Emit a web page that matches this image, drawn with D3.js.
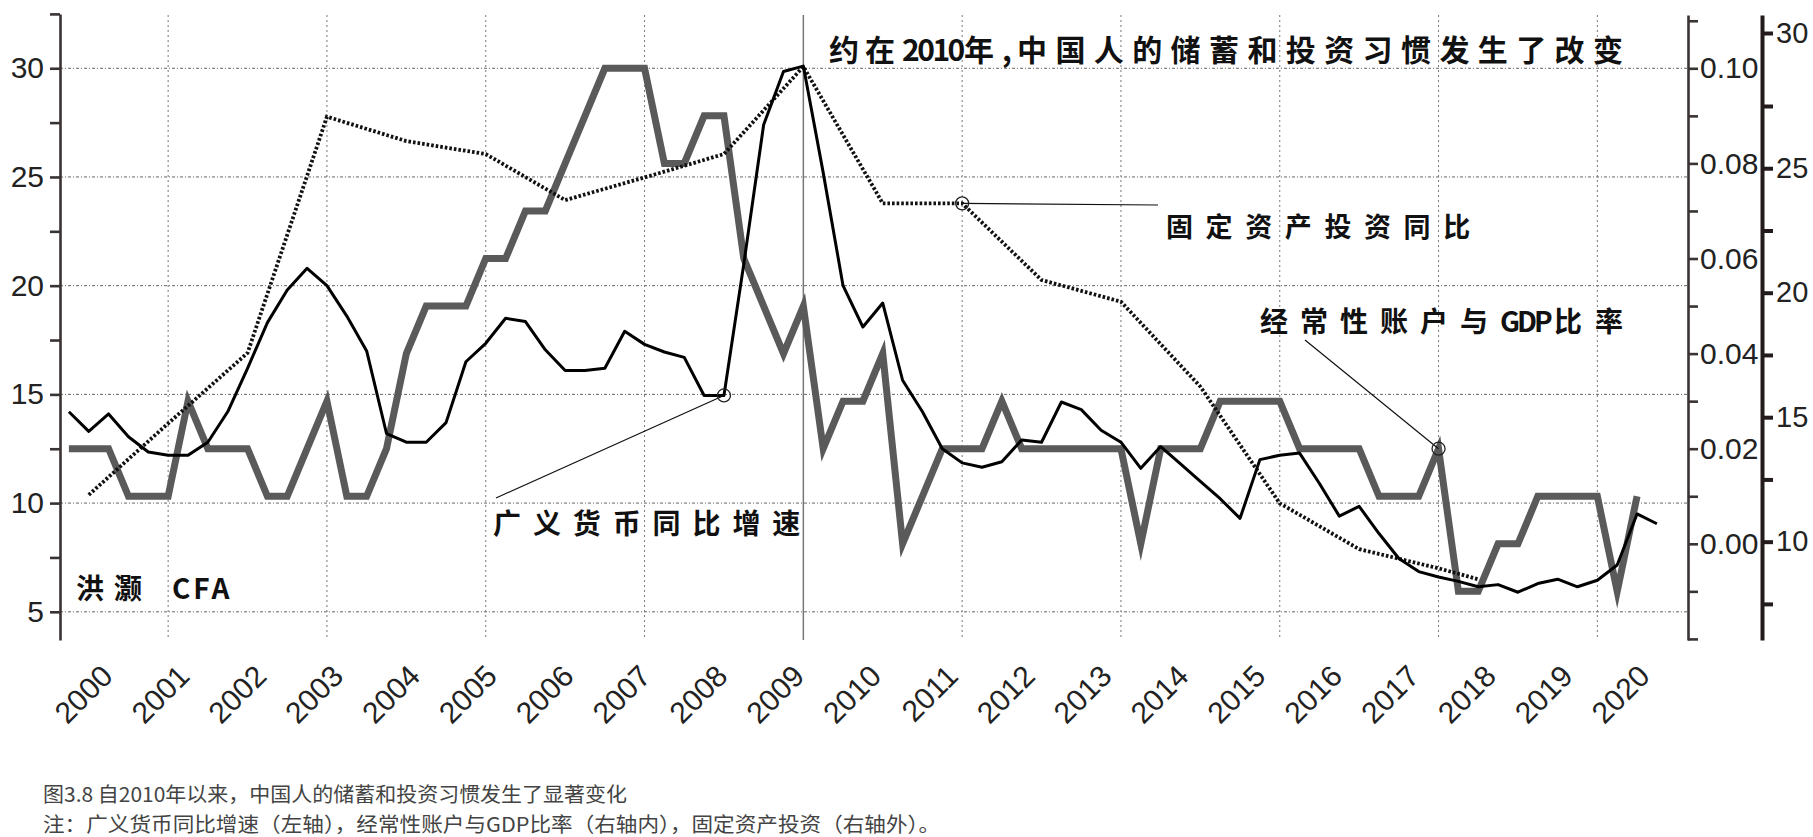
<!DOCTYPE html>
<html>
<head>
<meta charset="utf-8">
<script src="https://cdn.jsdelivr.net/npm/d3@7/dist/d3.min.js"></script>
<style>
  body { margin: 0; background: #fff; }
  svg { display: block; }
</style>
</head>
<body>
<svg id="chart" width="1813" height="837"></svg>
<script>
// ---------------- DATA ----------------
// quarterly categories 2000Q1 .. 2020Q1
const quarters = d3.range(0, 81).map(i => `${2000 + Math.floor(i / 4)}Q${(i % 4) + 1}`);

// 广义货币同比增速 (M2 YoY, %, left axis)
const m2Growth = [
  14.2, 13.3, 14.1, 13.05, 12.35, 12.2, 12.2, 12.8, 14.2, 16.2,
  18.3, 19.8, 20.8, 20.0, 18.6, 17.0, 13.2, 12.8, 12.8, 13.7,
  16.5, 17.35, 18.5, 18.35, 17.05, 16.1, 16.1, 16.2, 17.9, 17.3,
  16.95, 16.7, 14.95, 14.95, 21.0, 27.4, 29.85, 30.1, 25.2, 20.0,
  18.1, 19.2, 15.65, 14.2, 12.5, 11.85, 11.65, 11.9, 12.9, 12.8,
  14.65, 14.3, 13.35, 12.8, 11.6, 12.6, 11.8, 11.0, 10.2, 9.3,
  12.0, 12.2, 12.3, 10.9, 9.4, 9.85, 8.6, 7.45, 6.85, 6.6,
  6.4, 6.15, 6.25, 5.9, 6.3, 6.5, 6.15, 6.45, 7.15, 9.5,
  9.05
];

// 经常性账户与GDP比率 (current account / GDP, right inner axis)
const currentAccountGDP = [
  0.02, 0.02, 0.02, 0.01, 0.01, 0.01, 0.03, 0.02, 0.02, 0.02,
  0.01, 0.01, 0.02, 0.03, 0.01, 0.01, 0.02, 0.04, 0.05, 0.05,
  0.05, 0.06, 0.06, 0.07, 0.07, 0.08, 0.09, 0.10, 0.10, 0.10,
  0.08, 0.08, 0.09, 0.09, 0.06, 0.05, 0.04, 0.05, 0.02, 0.03,
  0.03, 0.04, 0.00, 0.01, 0.02, 0.02, 0.02, 0.03, 0.02, 0.02,
  0.02, 0.02, 0.02, 0.02, 0.00, 0.02, 0.02, 0.02, 0.03, 0.03,
  0.03, 0.03, 0.02, 0.02, 0.02, 0.02, 0.01, 0.01, 0.01, 0.02,
  -0.01, -0.01, 0.00, 0.00, 0.01, 0.01, 0.01, 0.01, -0.01, 0.01
];

// 固定资产投资同比 (fixed asset investment YoY, %, right outer axis), annual
const fixedInvestPeriods = [
  "2000Q2", "2001Q2", "2002Q2", "2003Q2", "2004Q2", "2005Q2", "2006Q2", "2007Q2", "2008Q2",
  "2009Q2", "2010Q2", "2011Q2", "2012Q2", "2013Q2", "2014Q2", "2015Q2", "2016Q2", "2017Q2", "2017Q4"
];
const fixedInvest = [
  11.88, 14.75, 17.58, 27.07, 26.09, 25.57, 23.72, 24.63, 25.57,
  28.85, 23.59, 23.59, 20.51, 19.64, 16.23, 11.54, 9.7, 8.93, 8.49
];

const yearLabels = d3.range(2000, 2021);
const leftTicks = [5, 7.5, 10, 12.5, 15, 17.5, 20, 22.5, 25, 27.5, 30, 32.5];
const innerTicks = [-0.02, -0.01, 0.00, 0.01, 0.02, 0.03, 0.04, 0.05, 0.06, 0.07, 0.08, 0.09, 0.10, 0.11];
const outerTicks = [7.5, 10, 12.5, 15, 17.5, 20, 22.5, 25, 27.5, 30];
const gridQuarters = ["2001Q2", "2003Q2", "2005Q2", "2007Q2", "2011Q2", "2013Q2", "2015Q2", "2017Q2", "2019Q2"];
const markerQuarter = "2009Q2";
const gridValues = [5, 10, 15, 20, 25, 30];

// ---------------- SCALES ----------------
const svg = d3.select("#chart");
const x = d3.scalePoint().domain(quarters).range([68.9, 1656.9]);
const xLab = d3.scaleLinear().domain([2000, 2020]).range([114, 1651]);
const yLeft = d3.scaleLinear().domain([3.703, 32.5]).range([640, 13.9]);
const yIn = d3.scaleLinear().domain([-0.02023, 0.11121]).range([640, 15]);
const yOut = d3.scaleLinear().domain([6.05, 27.5, 30, 30.6]).range([640, 106, 33, 15]);

const axisFont = "'Liberation Sans', Arial, sans-serif";
const cjkFont = "'Noto Sans CJK SC', 'Noto Sans', sans-serif";

// ---------------- GRID ----------------
const grid = svg.append("g");
grid.selectAll("line.h").data(gridValues).join("line")
  .attr("x1", 60).attr("x2", 1688)
  .attr("y1", d => yLeft(d)).attr("y2", d => yLeft(d))
  .attr("stroke", "#666").attr("stroke-width", 1)
  .attr("stroke-dasharray", "3,2,1,2");
grid.selectAll("line.v").data(gridQuarters).join("line")
  .attr("x1", d => x(d)).attr("x2", d => x(d))
  .attr("y1", 15).attr("y2", 640)
  .attr("stroke", "#777").attr("stroke-width", 1)
  .attr("stroke-dasharray", "2,3");
grid.append("line")
  .attr("x1", x(markerQuarter)).attr("x2", x(markerQuarter))
  .attr("y1", 15).attr("y2", 640)
  .attr("stroke", "#777").attr("stroke-width", 1.5);

// ---------------- AXES ----------------
function styleAxis(g, color, width, fontSize) {
  g.select(".domain").attr("stroke", color).attr("stroke-width", width);
  g.selectAll(".tick line").attr("stroke", color).attr("stroke-width", width);
  g.selectAll(".tick text").attr("fill", "#222").style("font-family", axisFont).style("font-size", fontSize + "px");
}

const gLeft = svg.append("g").attr("transform", "translate(60,0)")
  .call(d3.axisLeft(yLeft).tickValues(leftTicks).tickSize(10).tickSizeOuter(0).tickPadding(6)
    .tickFormat(d => (d % 5 === 0 ? d3.format("d")(d) : "")));
styleAxis(gLeft, "#3a3333", 2.6, 30);

const gIn = svg.append("g").attr("transform", "translate(1688,0)")
  .call(d3.axisRight(yIn).tickValues(innerTicks).tickSize(10).tickSizeOuter(0).tickPadding(2)
    .tickFormat(d => {
      const k = Math.round(d * 100);
      return (k >= 0 && k <= 10 && k % 2 === 0) ? d3.format(".2f")(d) : "";
    }));
styleAxis(gIn, "#3a3333", 2.6, 30);

const gOut = svg.append("g").attr("transform", "translate(1762,0)")
  .call(d3.axisRight(yOut).tickValues(outerTicks).tickSize(11).tickSizeOuter(0).tickPadding(3)
    .tickFormat(d => (d % 5 === 0 ? d3.format("d")(d) : "")));
styleAxis(gOut, "#241c1c", 4, 29);

const gX = svg.append("g").attr("transform", "translate(0,678)")
  .call(d3.axisBottom(xLab).tickValues(yearLabels).tickSize(0).tickFormat(d3.format("d")));
gX.select(".domain").remove();
gX.selectAll(".tick text")
  .attr("x", 0).attr("y", 0).attr("dy", 0)
  .attr("text-anchor", "end")
  .attr("transform", "rotate(-45)")
  .attr("fill", "#222")
  .style("font-family", axisFont).style("font-size", "30px");

// ---------------- SERIES ----------------
const caLine = d3.line().x((d, i) => x(quarters[i])).y(d => yIn(d));
svg.append("path").datum(currentAccountGDP)
  .attr("d", caLine).attr("fill", "none")
  .attr("stroke", "#5a5a5a").attr("stroke-width", 7).attr("stroke-linejoin", "miter").attr("stroke-miterlimit", 6);

const faiLine = d3.line().x((d, i) => x(fixedInvestPeriods[i])).y(d => yOut(d));
svg.append("path").datum(fixedInvest)
  .attr("d", faiLine).attr("fill", "none")
  .attr("stroke", "#111").attr("stroke-width", 3.8).attr("stroke-dasharray", "2.6,2");

const m2Line = d3.line().x((d, i) => x(quarters[i])).y(d => yLeft(d));
svg.append("path").datum(m2Growth)
  .attr("d", m2Line).attr("fill", "none")
  .attr("stroke", "#000").attr("stroke-width", 3).attr("stroke-linejoin", "round");

// ---------------- ANNOTATIONS ----------------
const ann = svg.append("g");
function leader(px, py, tx, ty) {
  ann.append("line").attr("x1", px).attr("y1", py).attr("x2", tx).attr("y2", ty)
    .attr("stroke", "#111").attr("stroke-width", 1.2);
  ann.append("circle").attr("cx", px).attr("cy", py).attr("r", 6.5)
    .attr("fill", "none").attr("stroke", "#222").attr("stroke-width", 1.3);
}
const iFai = fixedInvestPeriods.indexOf("2011Q2");
leader(x("2011Q2"), yOut(fixedInvest[iFai]), 1158, 205);
const iCa = quarters.indexOf("2017Q2");
leader(x("2017Q2"), yIn(currentAccountGDP[iCa]), 1305, 340);
const iM2 = quarters.indexOf("2008Q2");
leader(x("2008Q2"), yLeft(m2Growth[iM2]), 496, 498);

// one text element made of parts: [text, x start, letter-spacing]
function label(parts, yc, size) {
  const t = ann.append("text").attr("y", yc)
    .attr("dominant-baseline", "central")
    .attr("fill", "#111")
    .style("font-family", cjkFont).style("font-weight", 700).style("font-size", size + "px");
  parts.forEach(([txt, x0, ls]) => {
    t.append("tspan").attr("x", x0).attr("y", yc)
      .style("letter-spacing", ls + "px")
      .text(txt);
  });
}
label([
  ["约在", 829, 6],
  ["2010", 902, -2.5],
  ["年", 964, 0],
  [",", 1002, 0],
  ["中国人的储蓄和投资习惯发生了改变", 1017, 8.4]
], 48, 30);
label([["固定资产投资同比", 1166, 12.6]], 225, 27);
label([
  ["经常性账户与", 1260, 12],
  ["GDP", 1500, -3],
  ["比率", 1554, 13]
], 320, 28);
label([["广义货币同比增速", 493, 11.9]], 522, 28);
label([
  ["洪灏", 76, 10],
  ["CFA", 172, 3]
], 587, 28);

// ---------------- CAPTION ----------------
function caption(txt, x0, yc, len) {
  svg.append("text").attr("x", x0).attr("y", yc)
    .attr("dominant-baseline", "central")
    .attr("textLength", len).attr("lengthAdjust", "spacingAndGlyphs")
    .attr("fill", "#444")
    .style("font-family", cjkFont).style("font-weight", 400).style("font-size", "20.5px")
    .text(txt);
}
caption("图3.8 自2010年以来，中国人的储蓄和投资习惯发生了显著变化", 43, 793, 584);
caption("注：广义货币同比增速（左轴），经常性账户与GDP比率（右轴内），固定资产投资（右轴外）。", 43, 823, 897);
</script>
</body>
</html>
